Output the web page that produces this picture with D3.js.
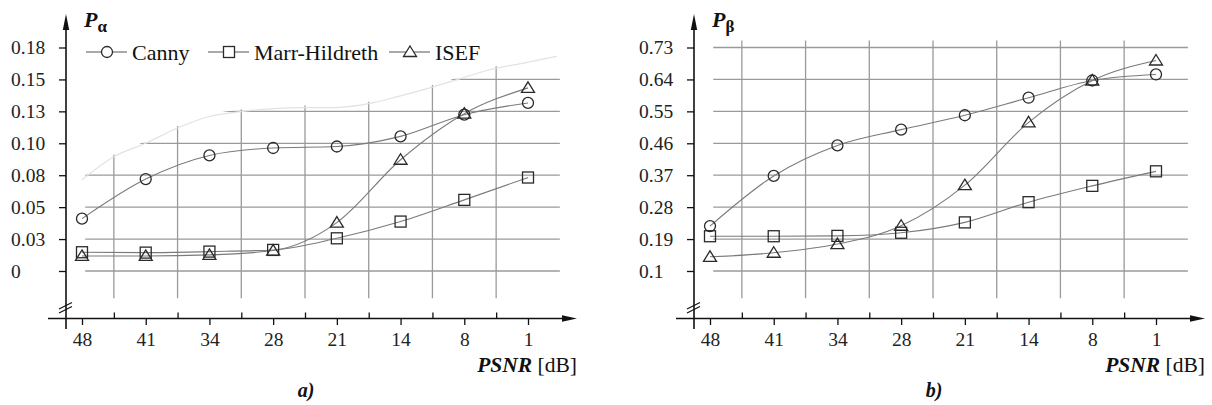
<!DOCTYPE html>
<html>
<head>
<meta charset="utf-8">
<script src="https://cdn.jsdelivr.net/npm/d3@7"></script>
<style>
  body { margin: 0; background: #fff; }
</style>
</head>
<body>
<svg id="canvas" width="1212" height="405"></svg>
<script>
// PSNR categories on the x axis
let psnr = ["48", "41", "34", "28", "21", "14", "8", "1"];
let seriesNames = ["Canny", "Marr-Hildreth", "ISEF"];

// panel a) P alpha
let alphaTicks = [0, 0.025, 0.05, 0.075, 0.1, 0.125, 0.15, 0.175];
let alphaTickLabels = ["0", "0.03", "0.05", "0.08", "0.10", "0.13", "0.15", "0.18"];
let alphaCanny = [0.041, 0.072, 0.0905, 0.0963, 0.0975, 0.1054, 0.1224, 0.1316];
let alphaMarr = [0.0147, 0.0144, 0.0152, 0.0165, 0.0256, 0.0387, 0.0557, 0.0732];
let alphaIsef = [0.0118, 0.0118, 0.0126, 0.016, 0.0379, 0.0871, 0.1232, 0.1434];

// panel b) P beta
let betaTicks = [0.1, 0.19, 0.28, 0.37, 0.46, 0.55, 0.64, 0.73];
let betaTickLabels = ["0.1", "0.19", "0.28", "0.37", "0.46", "0.55", "0.64", "0.73"];
let betaCanny = [0.2266, 0.368, 0.454, 0.4985, 0.539, 0.5885, 0.637, 0.654];
let betaMarr = [0.198, 0.198, 0.199, 0.2078, 0.237, 0.294, 0.34, 0.381];
let betaIsef = [0.14, 0.1515, 0.176, 0.2275, 0.342, 0.519, 0.637, 0.6934];

// faint boundary of the legend's white backing in panel a) (x index, value)
let maskIdx = [-0.1, 0, 0.5, 1.0, 1.5, 2.0, 2.5, 3.4, 4.0, 4.5, 4.95, 5.5, 5.9, 6.35, 6.95, 7.45, 7.7];
let maskVal = [0.067, 0.0714, 0.0895, 0.1, 0.112, 0.121, 0.1248, 0.128, 0.128, 0.131, 0.1365, 0.144, 0.150, 0.157, 0.163, 0.168, 0.170];

let serif = "'Liberation Serif', 'Times New Roman', 'DejaVu Serif', serif";
let svg = d3.select("#canvas").attr("font-family", serif);
let font = 19.5;
let gridColor = "#9a9a9a";
let lineColor = "#7a7a7a";
let markColor = "#2a2a2a";

function marker(g, type, cx, cy) {
    if (type === 0) {
        g.append("circle").attr("cx", cx).attr("cy", cy).attr("r", 5.5);
    } else if (type === 1) {
        g.append("rect").attr("x", cx - 5.5).attr("y", cy - 5.5).attr("width", 11).attr("height", 11);
    } else {
        g.append("path").attr("d", `M${cx},${cy - 6}L${cx + 6.5},${cy + 4.5}L${cx - 6.5},${cy + 4.5}Z`);
    }
}

function drawPanel(offsetX, opts) {
    let g = svg.append("g").attr("transform", `translate(${offsetX},0)`);
    let axisX = 66, axisY = 318.5;

    let x = d3.scaleLinear().domain([0, 7]).range([82, 528]);
    let y = d3.scaleLinear().domain([opts.ticks[0], opts.ticks[7]]).range([271, 47.5]);
    let step = (opts.ticks[7] - opts.ticks[0]) / 7;
    let mids = d3.range(7).map(i => i + 0.5);

    // grid
    let grid = g.append("g").attr("stroke", gridColor).attr("stroke-width", 1.3);
    grid.selectAll("line.h").data(opts.ticks).enter().append("line")
        .attr("x1", x(0.05)).attr("x2", x(7.5))
        .attr("y1", d => y(d)).attr("y2", d => y(d));
    grid.selectAll("line.v").data(mids).enter().append("line")
        .attr("x1", d => x(d)).attr("x2", d => x(d))
        .attr("y1", y(opts.ticks[0] - step * 0.85)).attr("y2", y(opts.ticks[7] + step * 0.22));

    if (opts.mask) {
        let pts = maskIdx.map((d, i) => [d, maskVal[i]]);
        g.append("path").datum(pts)
            .attr("fill", "#fff")
            .attr("transform", "translate(0,-2)")
            .attr("d", d3.area().x(d => x(d[0])).y0(20).y1(d => y(d[1])).curve(d3.curveMonotoneX));
        g.append("path").datum(pts.slice(1, -1))
            .attr("fill", "none").attr("stroke", "#e2e2e2").attr("stroke-width", 1.2)
            .attr("d", d3.line().x(d => x(d[0])).y(d => y(d[1])).curve(d3.curveMonotoneX));
    }

    // series
    opts.series.forEach((vals, s) => {
        g.append("path").datum(vals)
            .attr("fill", "none").attr("stroke", lineColor).attr("stroke-width", 1.1)
            .attr("d", d3.line().x((d, i) => x(i)).y(d => y(d)).curve(d3.curveMonotoneX));
    });
    opts.series.forEach((vals, s) => {
        let mg = g.append("g").attr("fill", "none").attr("stroke", markColor).attr("stroke-width", 1.3);
        vals.forEach((v, i) => marker(mg, s, x(i), y(v)));
    });

    // y axis
    let ya = g.append("g").attr("transform", `translate(${axisX},0)`)
        .call(d3.axisLeft(y).tickValues(opts.ticks).tickFormat((d, i) => opts.labels[i]).tickSize(7));
    ya.attr("font-family", serif).attr("font-size", font);
    ya.select(".domain").remove();
    ya.selectAll("line").attr("stroke", "#111").attr("stroke-width", 1.3);
    ya.selectAll("text").attr("x", -55).attr("text-anchor", "start").attr("dy", "0.33em").attr("fill", "#222");

    // x axis
    let xa = g.append("g").attr("transform", `translate(0,${axisY})`)
        .call(d3.axisBottom(x).tickValues(d3.range(8)).tickFormat(i => psnr[i]).tickSize(6.5));
    xa.attr("font-family", serif).attr("font-size", font);
    xa.select(".domain").remove();
    xa.selectAll("line").attr("stroke", "#111").attr("stroke-width", 1.3);
    xa.selectAll("text").attr("y", 27).attr("dy", null).attr("fill", "#222");
    let xm = g.append("g").attr("transform", `translate(0,${axisY})`)
        .call(d3.axisTop(x).tickValues(mids).tickFormat("").tickSize(6));
    xm.select(".domain").remove();
    xm.selectAll("line").attr("stroke", "#111").attr("stroke-width", 1.3);

    // axis lines with arrows
    g.append("line").attr("x1", 48).attr("x2", 566).attr("y1", axisY).attr("y2", axisY)
        .attr("stroke", "#111").attr("stroke-width", 1.6);
    g.append("path").attr("d", `M577,${axisY}L562,${axisY - 3.2}L562,${axisY + 3.2}Z`).attr("fill", "#111");
    g.append("line").attr("x1", axisX).attr("x2", axisX).attr("y1", 329).attr("y2", 26)
        .attr("stroke", "#111").attr("stroke-width", 1.6);
    g.append("path").attr("d", `M${axisX},14L${axisX - 3.2},30L${axisX + 3.2},30Z`).attr("fill", "#111");
    // axis break
    g.append("g").attr("stroke", "#111").attr("stroke-width", 1.2)
        .selectAll("line").data([0, 4]).enter().append("line")
        .attr("x1", axisX - 7).attr("x2", axisX + 6)
        .attr("y1", d => 309 + d).attr("y2", d => 302.5 + d);

    // axis titles
    let t = g.append("text").attr("x", 84).attr("y", 27).attr("fill", "#111").attr("font-family", serif);
    t.append("tspan").text("P").attr("font-size", 22).attr("font-weight", "bold").attr("font-style", "italic");
    t.append("tspan").text(opts.sub).attr("dy", 5).attr("font-size", 17).attr("font-weight", "bold");

    let xt = g.append("text").attr("x", 577).attr("y", 372).attr("text-anchor", "end")
        .attr("fill", "#111").attr("font-family", serif).attr("font-size", 21.5);
    xt.append("tspan").text("PSNR").attr("font-weight", "bold").attr("font-style", "italic");
    xt.append("tspan").text(" [dB]");

    g.append("text").attr("x", 306).attr("y", 397).attr("text-anchor", "middle")
        .attr("fill", "#111").attr("font-family", serif).attr("font-size", 20)
        .attr("font-weight", "bold").attr("font-style", "italic")
        .text(opts.panel);

    return g;
}

let ga = drawPanel(0, {
    ticks: alphaTicks, labels: alphaTickLabels,
    series: [alphaCanny, alphaMarr, alphaIsef],
    sub: "\u03B1", panel: "a)", mask: true
});
drawPanel(628, {
    ticks: betaTicks, labels: betaTickLabels,
    series: [betaCanny, betaMarr, betaIsef],
    sub: "\u03B2", panel: "b)", mask: false
});

// legend in panel a)
let legendX = [86, 208, 389];
let leg = ga.append("g");
seriesNames.forEach((name, s) => {
    let lx = legendX[s], ly = 52;
    leg.append("line").attr("x1", lx).attr("x2", lx + 41).attr("y1", ly).attr("y2", ly)
        .attr("stroke", "#555").attr("stroke-width", 1.1);
    let mg = leg.append("g").attr("fill", "#fff").attr("stroke", markColor).attr("stroke-width", 1.3);
    marker(mg, s, lx + 21, ly);
    leg.append("text").attr("x", lx + 46).attr("y", ly + 7.5).attr("fill", "#111")
        .attr("font-family", serif).attr("font-size", 22).text(name);
});
</script>
</body>
</html>
